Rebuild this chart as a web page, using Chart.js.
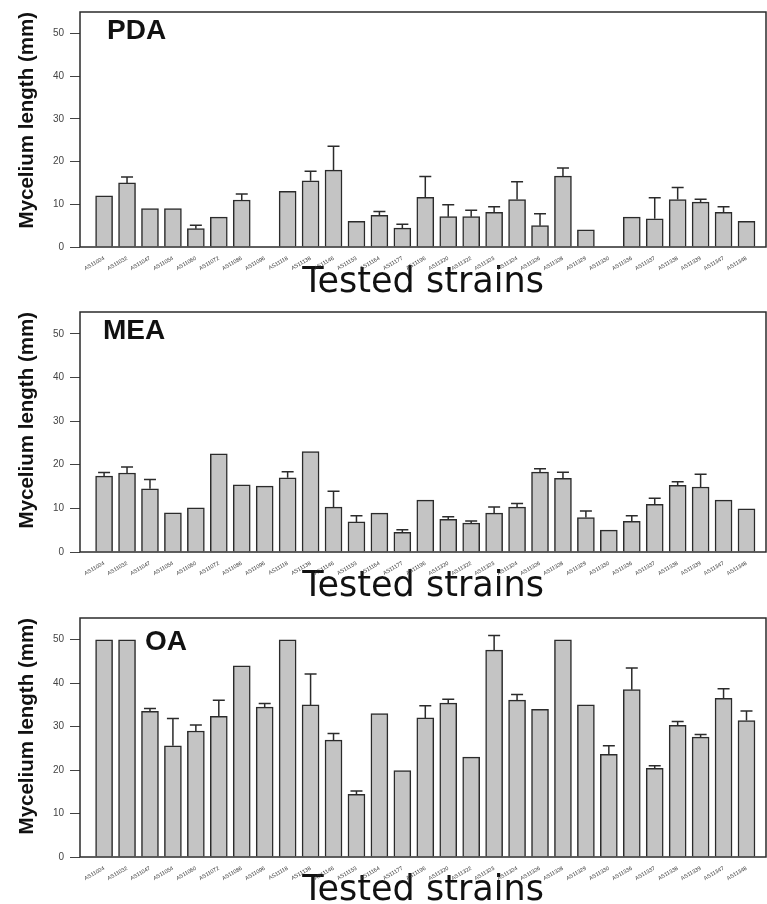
<!DOCTYPE html>
<html>
<head>
<meta charset="utf-8">
<title>Mycelium length</title>
<script src="https://cdn.jsdelivr.net/npm/chart.js@4.4.1/dist/chart.umd.min.js"></script>
<style>
  body { margin: 0; background: #fff; }
  .panel { position: absolute; left: 0; width: 767px; }
</style>
</head>
<body>
<div class="panel" style="top:0;height:300px"><canvas id="pda"></canvas></div>
<div class="panel" style="top:300px;height:304px"><canvas id="mea"></canvas></div>
<div class="panel" style="top:604px;height:300px"><canvas id="oa"></canvas></div>
<script>
const strains = ['AS11024', 'AS11032', 'AS11047', 'AS11054', 'AS11060', 'AS11072', 'AS11086', 'AS11096',
  'AS11118', 'AS11138', 'AS11146', 'AS11153', 'AS11164', 'AS11177', 'AS11196', 'AS11320', 'AS11322',
  'AS11323', 'AS11324', 'AS11326', 'AS11328', 'AS11329', 'AS11330', 'AS11336', 'AS11337', 'AS11338',
  'AS11339', 'AS11347', 'AS11348'];

// mean mycelium length (mm), null = no growth / not tested
const pdaMean = [12, 15, 9, 9, 4.3, 7, 11, null, 13, 15.5, 18, 6, 7.4, 4.4, 11.6, 7.1, 7.1, 8.1, 11.1, 5, 16.6, 4, null, 7, 6.6, 11.1, 10.5, 8.1, 6];
const pdaErr = [0, 1.4, 0, 0, 0.8, 0, 1.4, 0, 0, 2.2, 5.6, 0, 0.9, 0.9, 4.9, 2.8, 1.5, 1.3, 4.2, 2.8, 1.9, 0, 0, 0, 4.9, 2.8, 0.7, 1.3, 0];

const meaMean = [17.4, 18.1, 14.5, 9, 10.1, 22.5, 15.4, 15.1, 17, 23, 10.3, 6.9, 8.9, 4.5, 11.9, 7.5, 6.6, 8.9, 10.3, 18.3, 16.9, 7.9, 5, 7, 10.9, 15.3, 14.9, 11.9, 9.9];
const meaErr = [0.8, 1.4, 2.1, 0, 0, 0, 0, 0, 1.4, 0, 3.6, 1.4, 0, 0.6, 0, 0.6, 0.5, 1.4, 0.8, 0.8, 1.4, 1.5, 0, 1.3, 1.4, 0.8, 2.9, 0, 0];

const oaMean = [50, 50, 33.5, 25.6, 29, 32.4, 44, 34.5, 50, 35, 26.9, 14.4, 33, 19.9, 32, 35.4, 23, 47.6, 36.1, 34, 50, 35, 23.6, 38.5, 20.4, 30.3, 27.6, 36.5, 31.4];
const oaErr = [0, 0, 0.7, 6.3, 1.4, 3.7, 0, 0.8, 0, 7.1, 1.5, 0.8, 0, 0, 2.8, 0.9, 0, 3.4, 1.3, 0, 0, 0, 2, 5, 0.6, 0.9, 0.6, 2.2, 2.2];

const yTicks = [0, 10, 20, 30, 40, 50];

// upward error bars + plot frame + medium name inside the plot
const extras = {
  id: 'extras',
  afterDatasetsDraw(chart, args, opts) {
    const { ctx, chartArea } = chart;
    const yScale = chart.scales.y;
    const meta = chart.getDatasetMeta(0);
    ctx.save();
    ctx.strokeStyle = '#2b2b2b';
    ctx.lineWidth = 1.5;
    meta.data.forEach((bar, i) => {
      const mean = chart.data.datasets[0].data[i].y;
      const err = opts.err[i];
      if (mean == null || !err) return;
      const top = yScale.getPixelForValue(mean + err);
      ctx.beginPath();
      ctx.moveTo(bar.x, bar.y);
      ctx.lineTo(bar.x, top);
      ctx.moveTo(bar.x - 6, top);
      ctx.lineTo(bar.x + 6, top);
      ctx.stroke();
    });
    ctx.strokeRect(chartArea.left, chartArea.top, chartArea.right - chartArea.left, chartArea.bottom - chartArea.top);
    ctx.fillStyle = '#111';
    ctx.font = 'bold 28px "Liberation Sans", Arial, sans-serif';
    ctx.textBaseline = 'alphabetic';
    ctx.fillText(opts.name, chartArea.left + opts.dx, chartArea.top + opts.dy);
    ctx.restore();
  }
};

function makeChart(id, name, means, errs, padTop, axisHeight, titlePad, dx, dy) {
  const ctx = document.getElementById(id).getContext('2d');
  return new Chart(ctx, {
    type: 'bar',
    data: {
      datasets: [{
        data: means.map((v, i) => ({ x: i, y: v })),
        backgroundColor: '#c4c4c4',
        borderColor: '#2b2b2b',
        borderWidth: 1.5,
        barThickness: 17
      }]
    },
    plugins: [extras],
    options: {
      responsive: true,
      maintainAspectRatio: false,
      animation: false,
      layout: { padding: { top: padTop, right: 1, left: 0, bottom: 0 } },
      plugins: {
        legend: { display: false },
        tooltip: { enabled: false },
        extras: { err: errs, name: name, dx: dx, dy: dy }
      },
      scales: {
        x: {
          type: 'linear',
          min: -1.05,
          max: 28.85,
          offset: false,
          afterBuildTicks: (scale) => { scale.ticks = strains.map((_, i) => ({ value: i })); },
          afterFit: (scale) => { scale.height = axisHeight; },
          grid: { display: false },
          border: { display: false },
          ticks: {
            autoSkip: false,
            minRotation: 30,
            maxRotation: 30,
            padding: 0,
            color: '#333',
            font: { family: 'Arial, "Liberation Sans", sans-serif', size: 5.5 },
            callback: (v) => strains[v]
          },
          title: {
            display: true,
            text: 'Tested strains',
            color: '#111',
            font: { family: '"DejaVu Sans", sans-serif', size: 35, lineHeight: 1 },
            padding: { top: 0, bottom: titlePad }
          }
        },
        y: {
          min: 0,
          max: 55,
          afterBuildTicks: (scale) => { scale.ticks = yTicks.map(v => ({ value: v })); },
          afterFit: (scale) => { scale.width = 80; },
          grid: { display: true, drawOnChartArea: false, drawTicks: true, tickLength: 10, color: '#444' },
          border: { display: false },
          ticks: {
            padding: 6,
            color: '#444',
            font: { family: 'Arial, "Liberation Sans", sans-serif', size: 10 }
          },
          title: {
            display: true,
            text: 'Mycelium length (mm)',
            align: 'end',
            color: '#111',
            font: { family: '"Liberation Sans", Arial, sans-serif', size: 20.5, weight: 'bold' },
            padding: { top: 15, bottom: 0 }
          }
        }
      }
    }
  });
}

makeChart('pda', 'PDA', pdaMean, pdaErr, 8, 53, -0.5, 27, 27);
makeChart('mea', 'MEA', meaMean, meaErr, 12, 52, 0, 23, 27);
makeChart('oa', 'OA', oaMean, oaErr, 14, 47, -4.5, 65, 32);
</script>
</body>
</html>
